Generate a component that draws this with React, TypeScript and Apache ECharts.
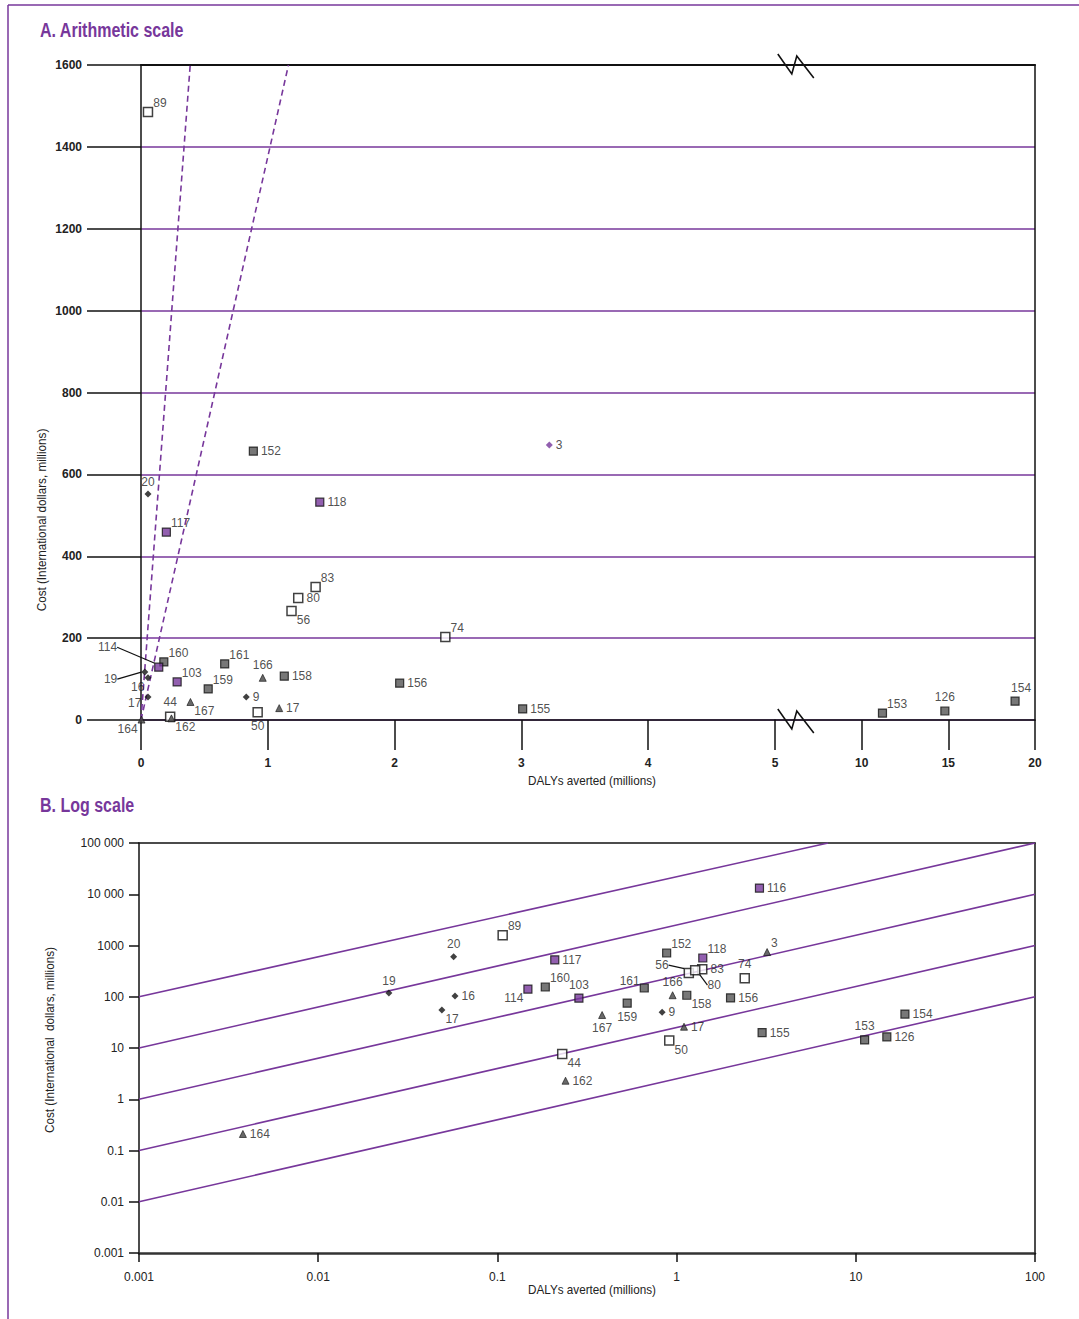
import React, { useEffect, useRef } from "react";
import * as echarts from "echarts";

const PURPLE = "#77379b";
const FONT = "'Liberation Sans', Arial, sans-serif";

// ---------------- Panel A (arithmetic scale) ----------------
const idsA = ["89", "20", "117", "152", "118", "3", "83", "80", "56", "74", "160", "114", "19", "16", "17", "164", "44", "162", "103", "159", "167", "161", "166", "158", "9", "50", "17", "156", "155", "153", "126", "154"];
const dalyA = [0.055, 0.055, 0.2, 0.886, 1.41, 3.22, 1.377, 1.24, 1.187, 2.4, 0.18, 0.14, 0.03, 0.055, 0.055, 0.004, 0.23, 0.24, 0.285, 0.53, 0.39, 0.66, 0.96, 1.13, 0.83, 0.92, 1.09, 2.04, 3.01, 11.2, 14.8, 18.85];
const costA = [1485, 552, 459, 657, 532, 672, 325, 298, 266, 203, 142, 129, 117, 103, 56, 1, 8, 4, 93, 76, 44, 137, 103, 107, 56, 19, 29, 90, 27, 17, 22, 46];
const kindA = ["open", "dot", "purple", "dark", "purple", "pdot", "open", "open", "open", "open", "dark", "purple", "dot", "dot", "dot", "tri", "open", "tri", "purple", "dark", "tri", "dark", "tri", "dark", "dot", "open", "tri", "dark", "dark", "dark", "dark", "dark"];
const yTicksA = [0, 200, 400, 600, 800, 1000, 1200, 1400, 1600];
const xSplitA = 5; // axis break: linear 0-5, compressed 5-20
const xMaxA = 20;
const breakAtA = 6.2;
const dashDalyAtTop = [0.388, 1.163]; // dashed threshold lines through origin, DALY at cost 1600

// ---------------- Panel B (log scale) ----------------
const idsB = ["164", "19", "20", "16", "17", "89", "114", "160", "117", "103", "161", "159", "167", "9", "166", "152", "56", "80", "83", "118", "158", "17", "50", "44", "162", "74", "3", "156", "155", "116", "153", "126", "154"];
const dalyB = [0.0038, 0.0248, 0.057, 0.058, 0.049, 0.107, 0.148, 0.185, 0.209, 0.285, 0.66, 0.53, 0.384, 0.83, 0.95, 0.88, 1.17, 1.27, 1.39, 1.4, 1.14, 1.1, 0.91, 0.23, 0.24, 2.4, 3.2, 2.0, 3.0, 2.9, 11.2, 14.9, 18.8];
const costB = [0.21, 118, 600, 103, 55, 1590, 141, 155, 525, 94, 148, 75, 44, 50, 107, 714, 290, 330, 345, 570, 107, 26, 14, 7.6, 2.3, 230, 745, 95, 20, 13200, 14.4, 16.5, 46];
const kindB = ["tri", "dot", "dot", "dot", "dot", "open", "purple", "dark", "purple", "purple", "dark", "dark", "tri", "dot", "tri", "dark", "open", "open", "open", "purple", "dark", "tri", "open", "open", "tri", "open", "tri", "dark", "dark", "purple", "dark", "dark", "dark"];
const yTickLabelsB = ["0.001", "0.01", "0.1", "1", "10", "100", "1000", "10 000", "100 000"];
const xTickLabelsB = ["0.001", "0.01", "0.1", "1", "10", "100"];
const diagX0 = 0.001;
const diagY0 = [100, 10, 1, 0.1, 0.01];
const diagX1 = [7, 100, 100, 100, 100];
const diagY1 = [100000, 100000, 10000, 1000, 100];

// ---------------- label placement (style only) ----------------
const posA = ["tr", "t", "tr", "r", "r", "r", "tr", "r", "br", "tr", "tr", "L", "L", "bl", "lo", "bl", "t", "br", "tr", "tr", "br", "tr", "t", "r", "r", "b", "r", "r", "r", "tr", "t", "tr2"];
const leaderA: Record<number, [string, number, number]> = { 11: ["left", -34, -20], 12: ["left", -21, 7] };
const posB = ["r", "t", "t", "r", "br", "tr", "bl", "tr", "r", "t", "tl", "b", "b", "r", "t", "tr", "L", "L", "r", "tr", "br", "r", "br", "br", "r", "t", "tr", "r", "r", "r", "t", "r", "r"];
const leaderB: Record<number, [string, number, number]> = { 16: ["left", -12, -8], 17: ["right", 4, 15] };

const KIND_STYLE: Record<string, any> = {
  open: { symbol: "rect", symbolSize: 9, itemStyle: { color: "#fff", borderColor: "#111", borderWidth: 1.5 } },
  dark: { symbol: "rect", symbolSize: 8, itemStyle: { color: "#555", borderColor: "#111", borderWidth: 1.2 } },
  purple: { symbol: "rect", symbolSize: 8, itemStyle: { color: PURPLE, borderColor: "#111", borderWidth: 1.2 } },
  tri: { symbol: "triangle", symbolSize: 7, itemStyle: { color: "#444", borderColor: "#111", borderWidth: 0.8 } },
  dot: { symbol: "diamond", symbolSize: 7, itemStyle: { color: "#111" } },
  pdot: { symbol: "diamond", symbolSize: 7, itemStyle: { color: PURPLE } },
};

function labelFor(code: string) {
  switch (code) {
    case "r": return { position: "right" };
    case "l": return { position: "left" };
    case "lo": return { position: "left", offset: [0, 6] };
    case "t": return { position: "top" };
    case "b": return { position: "bottom" };
    case "tr": return { position: "right", offset: [-3, -9] };
    case "tr2": return { position: "top", offset: [6, 0] };
    case "br": return { position: "right", offset: [-3, 9] };
    case "bl": return { position: "left", offset: [3, 9] };
    case "tl": return { position: "left", offset: [3, -7] };
    default: return { position: "right" };
  }
}

const LABEL_BASE = { show: true, formatter: "{b}", fontFamily: FONT, fontSize: 12, color: "#222", distance: 3 };

function buildScatter(
  ids: string[], xs: number[], ys: number[], kinds: string[], pos: string[],
  leaders: Record<number, [string, number, number]>,
  axisFor: (x: number) => [number, number]
) {
  const groups: Record<string, any> = {};
  const out: any[] = [];
  ids.forEach((id, i) => {
    const [xi, yi] = axisFor(xs[i]);
    const k = kinds[i];
    const datum: any = { name: id, value: [xs[i], ys[i]] };
    if (leaders[i]) {
      const [p, dx, dy] = leaders[i];
      out.push({
        type: "scatter", xAxisIndex: xi, yAxisIndex: yi, ...KIND_STYLE[k], z: 5,
        label: { ...LABEL_BASE, position: p },
        labelLayout: { dx, dy },
        labelLine: { show: true, lineStyle: { color: "#111", width: 1.2 } },
        data: [datum],
      });
      return;
    }
    datum.label = labelFor(pos[i]);
    const key = k + "_" + xi;
    if (!groups[key]) {
      groups[key] = {
        type: "scatter", xAxisIndex: xi, yAxisIndex: yi, ...KIND_STYLE[k], z: 5,
        label: { ...LABEL_BASE }, data: [],
      };
      out.push(groups[key]);
    }
    groups[key].data.push(datum);
  });
  return out;
}

const BREAK_SHAPE = [[-18, -11], [-4, 9], [1, -9], [18, 13]];

export default function App() {
  const ref = useRef<HTMLDivElement>(null);
  useEffect(() => {
    if (!ref.current) return;
    const chart = echarts.init(ref.current, undefined, { renderer: "svg" });

    const black = { color: "#111", width: 1.5 };
    const tickLabel = { fontFamily: FONT, fontSize: 12, fontWeight: "bold", color: "#222" };
    const logIdx = (v: number) => Math.round(Math.log10(v));

    const option: any = {
      animation: false,
      backgroundColor: "#fff",
      textStyle: { fontFamily: FONT },
      grid: [
        { left: 141, top: 65, width: 634, height: 655 },
        { left: 775, top: 65, width: 260, height: 655 },
        { left: 139, top: 843, width: 896, height: 410 },
      ],
      xAxis: [
        {
          gridIndex: 0, type: "value", min: 0, max: xSplitA, interval: 1,
          axisLine: { show: true, onZero: false, lineStyle: black },
          axisTick: { show: true, length: 30, lineStyle: black },
          axisLabel: { ...tickLabel, margin: 37 },
          splitLine: { show: false },
        },
        {
          gridIndex: 1, type: "value", min: xSplitA, max: xMaxA, interval: 5,
          axisLine: { show: true, onZero: false, lineStyle: black },
          axisTick: { show: true, length: 30, lineStyle: black },
          axisLabel: { ...tickLabel, margin: 37, showMinLabel: false },
          splitLine: { show: false },
        },
        {
          gridIndex: 0, type: "value", position: "top", min: 0, max: xSplitA,
          axisLine: { show: true, onZero: false, lineStyle: { color: "#111", width: 2 } },
          axisTick: { show: false }, axisLabel: { show: false }, splitLine: { show: false },
        },
        {
          gridIndex: 1, type: "value", position: "top", min: xSplitA, max: xMaxA,
          axisLine: { show: true, onZero: false, lineStyle: { color: "#111", width: 2 } },
          axisTick: { show: false }, axisLabel: { show: false }, splitLine: { show: false },
        },
        {
          gridIndex: 2, type: "log", logBase: 10, min: 0.001, max: 100,
          axisLine: { show: true, onZero: false, lineStyle: { color: "#333", width: 2.5 } },
          axisTick: { show: true, length: 9, lineStyle: black },
          axisLabel: { ...tickLabel, fontWeight: "normal", margin: 18, formatter: (v: number) => xTickLabelsB[logIdx(v) + 3] ?? "" },
          splitLine: { show: false },
        },
        {
          gridIndex: 2, type: "log", logBase: 10, position: "top", min: 0.001, max: 100,
          axisLine: { show: true, onZero: false, lineStyle: black },
          axisTick: { show: false }, axisLabel: { show: false }, splitLine: { show: false },
        },
      ],
      yAxis: [
        {
          gridIndex: 0, type: "value", min: 0, max: 1600, interval: 200,
          axisLine: { show: true, onZero: false, lineStyle: black },
          axisTick: { show: true, length: 54, lineStyle: black },
          axisLabel: { ...tickLabel, margin: 59, formatter: (v: number) => (yTicksA.includes(v) ? String(v) : "") },
          splitLine: { show: true, lineStyle: { color: PURPLE, width: 1.5 } },
        },
        {
          gridIndex: 1, type: "value", position: "right", min: 0, max: 1600, interval: 200,
          axisLine: { show: true, onZero: false, lineStyle: black },
          axisTick: { show: false }, axisLabel: { show: false },
          splitLine: { show: true, lineStyle: { color: PURPLE, width: 1.5 } },
        },
        {
          gridIndex: 2, type: "log", logBase: 10, min: 0.001, max: 100000,
          axisLine: { show: true, onZero: false, lineStyle: black },
          axisTick: { show: true, length: 10, lineStyle: black },
          axisLabel: { ...tickLabel, fontWeight: "normal", margin: 15, formatter: (v: number) => yTickLabelsB[logIdx(v) + 3] ?? "" },
          splitLine: { show: false },
        },
        {
          gridIndex: 2, type: "log", logBase: 10, position: "right", min: 0.001, max: 100000,
          axisLine: { show: true, onZero: false, lineStyle: black },
          axisTick: { show: false }, axisLabel: { show: false }, splitLine: { show: false },
        },
      ],
      series: [
        ...dashDalyAtTop.map((d) => ({
          type: "line", xAxisIndex: 0, yAxisIndex: 0, symbol: "none", z: 3,
          lineStyle: { color: PURPLE, width: 1.6, type: [6, 4] },
          data: [[0, 0], [d, yTicksA[yTicksA.length - 1]]],
        })),
        ...diagY0.map((y0, i) => ({
          type: "line", xAxisIndex: 4, yAxisIndex: 2, symbol: "none", z: 3,
          lineStyle: { color: PURPLE, width: 1.6 },
          data: [[diagX0, y0], [diagX1[i], diagY1[i]]],
        })),
        {
          type: "custom", xAxisIndex: 1, yAxisIndex: 1, clip: false, z: 10, silent: true,
          data: [[breakAtA, 0], [breakAtA, 1600]],
          renderItem: (params: any, api: any) => {
            const p = api.coord([api.value(0), api.value(1)]);
            return {
              type: "polyline",
              shape: { points: BREAK_SHAPE.map(([dx, dy]) => [p[0] + dx, p[1] + dy]) },
              style: { stroke: "#111", lineWidth: 1.6, fill: null },
            };
          },
        },
        ...buildScatter(idsA, dalyA, costA, kindA, posA, leaderA, (x) => (x > xSplitA ? [1, 1] : [0, 0])),
        ...buildScatter(idsB, dalyB, costB, kindB, posB, leaderB, () => [4, 2]),
      ],
      graphic: [
        { type: "line", shape: { x1: 8, y1: 5, x2: 1079, y2: 5 }, style: { stroke: PURPLE, lineWidth: 1.5 } },
        { type: "line", shape: { x1: 8, y1: 5, x2: 8, y2: 1319 }, style: { stroke: PURPLE, lineWidth: 1.5 } },
        { type: "text", x: 40, y: 30, scaleX: 0.8, style: { text: "A. Arithmetic scale", fill: PURPLE, font: `bold 20px ${FONT}`, verticalAlign: "middle" } },
        { type: "text", x: 40, y: 805, scaleX: 0.8, style: { text: "B. Log scale", fill: PURPLE, font: `bold 20px ${FONT}`, verticalAlign: "middle" } },
        { type: "text", x: 592, y: 781, scaleX: 0.9, style: { text: "DALYs averted (millions)", fill: "#222", font: `13px ${FONT}`, align: "center", verticalAlign: "middle" } },
        { type: "text", x: 592, y: 1290, scaleX: 0.9, style: { text: "DALYs averted (millions)", fill: "#222", font: `13px ${FONT}`, align: "center", verticalAlign: "middle" } },
        { type: "text", x: 42, y: 520, rotation: Math.PI / 2, scaleX: 0.9, style: { text: "Cost (International dollars, millions)", fill: "#222", font: `13px ${FONT}`, align: "center", verticalAlign: "middle" } },
        { type: "text", x: 50, y: 1040, rotation: Math.PI / 2, scaleX: 0.9, style: { text: "Cost (International  dollars, millions)", fill: "#222", font: `13px ${FONT}`, align: "center", verticalAlign: "middle" } },
      ],
    };
    chart.setOption(option);
    return () => chart.dispose();
  }, []);
  return <div ref={ref} style={{ position: "fixed", left: 0, top: 0, width: 1079, height: 1319 }} />;
}
